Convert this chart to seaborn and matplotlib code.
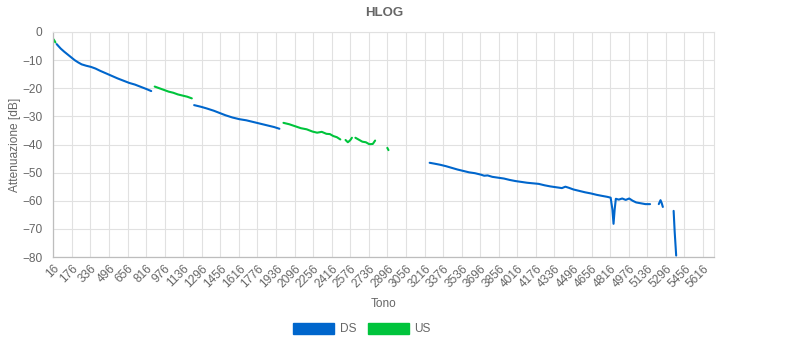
import pandas as pd
import seaborn as sns
import matplotlib.pyplot as plt
from matplotlib.patches import Patch

# HLOG values (tone -> attenuation in dB), one list pair per trace piece
ds_tones_1 = [45, 60, 80, 110, 140, 170, 200, 230, 260, 300, 340, 380, 420, 470, 520, 570, 620, 670, 720, 770, 820, 860]
ds_vals_1 = [-4.3, -5.0, -5.9, -7.0, -8.0, -9.0, -10.0, -10.8, -11.5, -12.0, -12.4, -13.0, -13.8, -14.7, -15.6,
             -16.5, -17.3, -18.1, -18.7, -19.5, -20.3, -21.0]

ds_tones_2 = [1230, 1290, 1340, 1400, 1450, 1500, 1560, 1620, 1680, 1740, 1800, 1860, 1920, 1965]
ds_vals_2 = [-26.0, -26.6, -27.2, -28.0, -28.8, -29.6, -30.4, -31.0, -31.4, -32.0, -32.6, -33.2, -33.8, -34.4]

ds_tones_3 = [3260, 3300, 3350, 3400, 3450, 3500, 3550, 3600, 3650, 3700, 3730, 3760, 3800, 3850, 3900, 3950,
              4000, 4050, 4100, 4150, 4200, 4250, 4300, 4350, 4400, 4430, 4460, 4500, 4550, 4600, 4650, 4700,
              4750, 4790, 4820, 4835, 4845, 4855, 4865, 4890, 4920, 4950, 4980, 5010, 5040, 5080, 5120, 5160]
ds_vals_3 = [-46.5, -46.8, -47.2, -47.7, -48.3, -48.9, -49.4, -49.9, -50.2, -50.7, -51.1, -51.0, -51.5, -51.8,
             -52.1, -52.6, -53.0, -53.3, -53.6, -53.8, -54.0, -54.5, -54.9, -55.2, -55.5, -55.0, -55.4, -56.0,
             -56.5, -57.0, -57.4, -57.9, -58.3, -58.6, -58.9, -63.0, -68.2, -63.0, -59.3, -59.6, -59.2, -59.7,
             -59.2, -60.0, -60.6, -60.9, -61.2, -61.2]

ds_tones_4 = [5235, 5250, 5260, 5270]
ds_vals_4 = [-61.2, -59.8, -60.8, -62.2]

ds_tones_5 = [5363, 5372, 5385]
ds_vals_5 = [-63.6, -71.0, -79.5]

us_tones_0 = [18, 26, 34]
us_vals_0 = [-2.6, -3.1, -3.7]

us_tones_1 = [890, 930, 970, 1010, 1050, 1090, 1130, 1170, 1210]
us_vals_1 = [-19.4, -20.0, -20.6, -21.2, -21.6, -22.2, -22.6, -23.0, -23.6]

us_tones_2 = [2000, 2050, 2100, 2150, 2200, 2250, 2290, 2330, 2370, 2400, 2430, 2460, 2490]
us_vals_2 = [-32.3, -32.8, -33.5, -34.2, -34.6, -35.4, -35.8, -35.5, -36.2, -36.3, -37.0, -37.4, -38.2]

us_tones_3 = [2535, 2555, 2575, 2590]
us_vals_3 = [-38.4, -39.2, -38.5, -37.6]

us_tones_4 = [2620, 2650, 2680, 2710, 2740, 2770, 2790]
us_vals_4 = [-37.6, -38.3, -39.0, -39.2, -39.9, -39.8, -38.6]

us_tones_5 = [2895, 2905]
us_vals_5 = [-41.2, -42.0]

tick_labels = list(range(16, 5617, 160))

ds_color = '#0066CC'
us_color = '#00C43C'

# build a long table, one "seg" per unbroken piece of line
rows = []
pieces = [
    ('DS', ds_tones_1, ds_vals_1), ('DS', ds_tones_2, ds_vals_2), ('DS', ds_tones_3, ds_vals_3),
    ('DS', ds_tones_4, ds_vals_4), ('DS', ds_tones_5, ds_vals_5),
    ('US', us_tones_0, us_vals_0), ('US', us_tones_1, us_vals_1), ('US', us_tones_2, us_vals_2),
    ('US', us_tones_3, us_vals_3), ('US', us_tones_4, us_vals_4), ('US', us_tones_5, us_vals_5),
]
for i, (band, tones, vals) in enumerate(pieces):
    for t, v in zip(tones, vals):
        rows.append({'tone': t, 'value': v, 'band': band, 'seg': i})
df = pd.DataFrame(rows)

sns.set_style('white')
plt.rcParams['font.family'] = ['Liberation Sans', 'DejaVu Sans']

fig = plt.figure(figsize=(7.99, 3.63), dpi=100)
ax = fig.add_axes([53.3 / 799, 1 - 257 / 363, (714 - 53.3) / 799, (257 - 32) / 363])

sns.lineplot(data=df, x='tone', y='value', hue='band', units='seg', estimator=None,
             palette={'DS': ds_color, 'US': us_color}, linewidth=1.5, legend=False, ax=ax)

ax.set_xlim(16, 5711)
ax.set_ylim(-80, 0)
ax.set_xticks(tick_labels)
ax.set_xticklabels([str(t) for t in tick_labels], rotation=45, ha='right', rotation_mode='anchor')
ax.set_yticks(range(-80, 1, 10))
ax.grid(True, color='#e1e1e1', linewidth=0.8)
ax.tick_params(axis='both', length=0, labelsize=8.6, labelcolor='#666666')
ax.tick_params(axis='x', pad=4)
ax.tick_params(axis='y', pad=8)
for side in ['top', 'right']:
    ax.spines[side].set_color('#e1e1e1')
    ax.spines[side].set_linewidth(0.8)
for side in ['left', 'bottom']:
    ax.spines[side].set_color('#bdbdbd')
    ax.spines[side].set_linewidth(0.9)

ax.set_xlabel('Tono', fontsize=8.6, color='#666666', labelpad=6)
ax.set_ylabel('Attenuazione [dB]', fontsize=8.6, color='#666666', labelpad=1)
fig.text(384 / 799, 1 - 13 / 363, 'HLOG', ha='center', va='center', fontsize=9.5,
         fontweight='bold', color='#666666')

handles = [Patch(facecolor=ds_color, edgecolor=ds_color, label='DS'),
           Patch(facecolor=us_color, edgecolor=us_color, label='US')]
fig.legend(handles=handles, loc='center', bbox_to_anchor=(362 / 799, 1 - 329 / 363), ncol=2,
           frameon=False, fontsize=8.6, labelcolor='#666666', handlelength=3.4, handleheight=1.1,
           handletextpad=0.5, columnspacing=1.0)

fig.savefig('out.png', dpi=100)
